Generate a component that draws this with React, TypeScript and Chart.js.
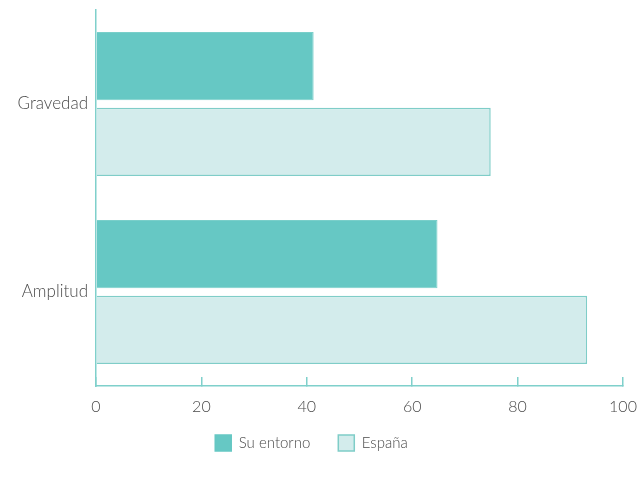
import React, { useEffect, useRef } from "react";
import { Chart, registerables } from "chart.js";

Chart.register(...registerables);

const categories = ["Gravedad", "Amplitud"];
const suEntorno = [41.3, 64.8];
const espana = [74.9, 93.2];
const seriesLabels = ["Su entorno", "España"];
const xTicks = [0, 20, 40, 60, 80, 100];

const FONT = "Lato, 'DejaVu Sans', sans-serif";
const TEXT = "#4a4a4a";
const LINE = "#7fd0cb";

const legendShift = {
  id: "legendShift",
  afterLayout(chart: any) {
    if (chart.legend) {
      chart.legend.top -= 9;
      chart.legend.bottom -= 9;
    }
  },
};

export default function App() {
  const ref = useRef<HTMLCanvasElement | null>(null);
  useEffect(() => {
    if (!ref.current) return;
    const chart = new Chart(ref.current, {
      type: "bar",
      data: {
        labels: categories,
        datasets: [
          {
            label: seriesLabels[0],
            data: suEntorno,
            backgroundColor: "#66c8c4",
            borderColor: "#79cfca",
            borderWidth: 1,
            barPercentage: 0.9,
            categoryPercentage: 0.805,
          },
          {
            label: seriesLabels[1],
            data: espana,
            backgroundColor: "#d3ecec",
            borderColor: "#7fcdc8",
            borderWidth: 1.5,
            barPercentage: 0.9,
            categoryPercentage: 0.805,
          },
        ],
      },
      plugins: [legendShift],
      options: {
        indexAxis: "y",
        animation: false,
        responsive: false,
        maintainAspectRatio: false,
        layout: { padding: { top: 10, left: 0, right: 15, bottom: 10 } },
        plugins: {
          tooltip: { enabled: false },
          legend: {
            position: "bottom",
            labels: {
              font: { family: FONT, size: 15, weight: "300" },
              color: TEXT,
              boxWidth: 16,
              boxHeight: 16,
              padding: 28,
              generateLabels: (c: any) =>
                c.data.datasets.map((d: any, i: number) => ({
                  text: d.label,
                  fillStyle: d.backgroundColor,
                  strokeStyle: i === 0 ? d.backgroundColor : "#7fcdc8",
                  lineWidth: 1.5,
                  fontColor: TEXT,
                  datasetIndex: i,
                  hidden: false,
                })),
            },
          },
        },
        scales: {
          x: {
            min: 0,
            max: 100,
            afterBuildTicks: (s: any) => {
              s.ticks = xTicks.map((v) => ({ value: v }));
            },
            grid: {
              drawOnChartArea: false,
              drawTicks: true,
              tickLength: -9,
              color: LINE,
              lineWidth: 1.5,
            },
            border: { display: true, color: LINE, width: 1.5 },
            ticks: {
              padding: 20,
              font: { family: FONT, size: 16, weight: "300" },
              color: TEXT,
            },
            afterFit: (s: any) => {
              s.height = 30;
              s.paddingLeft = 0;
              s.paddingRight = 0;
            },
          },
          y: {
            grid: { drawOnChartArea: false, drawTicks: false },
            border: { display: true, color: LINE, width: 1.5 },
            ticks: {
              padding: 8,
              font: { family: FONT, size: 17, weight: "300" },
              color: TEXT,
            },
            afterFit: (s: any) => {
              s.width = 96;
              s.paddingTop = 0;
              s.paddingBottom = 0;
            },
          },
        },
      },
    } as any);
    return () => chart.destroy();
  }, []);
  return (
    <div style={{ position: "fixed", left: 0, top: 0, width: 638, height: 480, background: "#fff" }}>
      <canvas ref={ref} width={638} height={480} style={{ width: 638, height: 480, display: "block" }} />
    </div>
  );
}
